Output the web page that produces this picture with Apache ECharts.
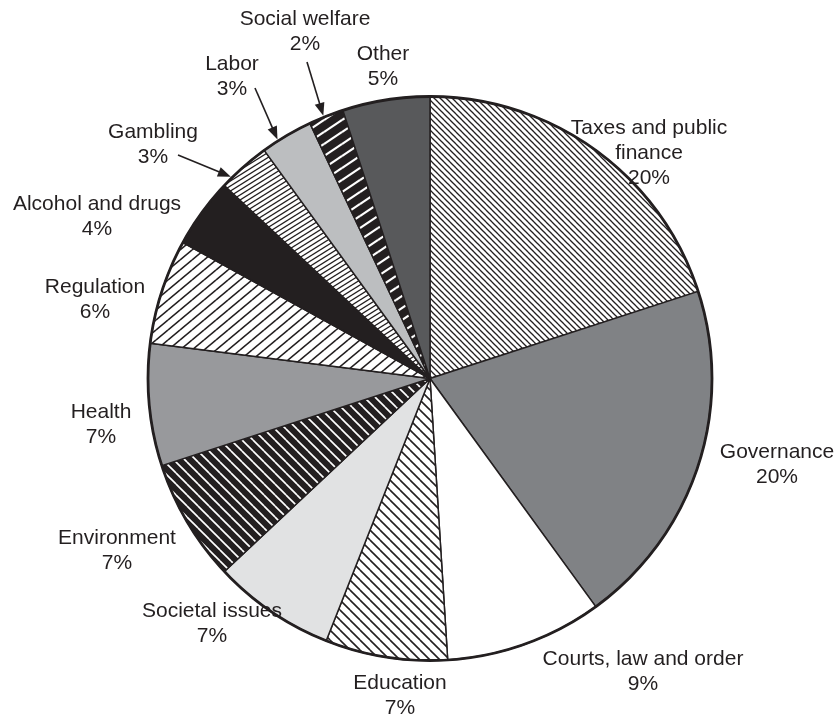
<!DOCTYPE html>
<html>
<head>
<meta charset="utf-8">
<script src="https://cdn.jsdelivr.net/npm/echarts@6/dist/echarts.min.js"></script>
<style>
  html, body { margin: 0; padding: 0; background: #ffffff; }
  #chart { width: 839px; height: 718px; }
</style>
</head>
<body>
<div id="chart"></div>
<script>
// Policy areas, clockwise from 12 o'clock
const categories = [
  'Taxes and public\nfinance', 'Governance', 'Courts, law and order', 'Education',
  'Societal issues', 'Environment', 'Health', 'Regulation', 'Alcohol and drugs',
  'Gambling', 'Labor', 'Social welfare', 'Other'
];
// Share of all items, percent
const shares = [20, 20, 9, 7, 7, 7, 7, 6, 4, 3, 3, 2, 5];

// ---- layout ----
const INK = '#231f20';
const CX = 430, CY = 378.5, R = 282;
const FONT = '"Liberation Sans", Arial, Helvetica, sans-serif';

// centre of each label block
const labelAnchor = [
  [649, 153], [777, 465], [643, 672], [400, 696], [212, 624], [117, 551],
  [101, 425], [95, 300], [97, 217], [153, 145], [232, 77], [305, 32], [383, 67]
];
// arrows for the small slices whose labels sit away from the rim:
// tail point, and where along the slice (0..1) the head touches the rim
const arrowSpec = {
  9: { tail: [178, 155], at: 0.2 },
  10: { tail: [255, 88], at: 0.32 },
  11: { tail: [307, 62], at: 0.43 }
};

// ---- fills ----
function stripes(w, h, dir, lw, fg, bg) {
  const c = document.createElement('canvas');
  c.width = w; c.height = h;
  const g = c.getContext('2d');
  g.fillStyle = bg; g.fillRect(0, 0, w, h);
  g.strokeStyle = fg; g.lineWidth = lw;
  const shifts = [[0, 0], [-w, 0], [w, 0], [0, -h], [0, h]];
  for (const [ox, oy] of shifts) {
    g.beginPath();
    if (dir === '/') { g.moveTo(ox, oy + h); g.lineTo(ox + w, oy); }
    else { g.moveTo(ox, oy); g.lineTo(ox + w, oy + h); }
    g.stroke();
  }
  return { image: c, repeat: 'repeat' };
}

const fills = [
  stripes(6, 6, '\\', 1.3, INK, '#ffffff'),   // Taxes
  '#808285',                                 // Governance
  '#ffffff',                                 // Courts
  stripes(10, 10, '\\', 1.6, INK, '#ffffff'), // Education
  '#e1e2e3',                                 // Societal issues
  stripes(11, 11, '\\', 1.7, '#ffffff', INK), // Environment
  '#98999c',                                 // Health
  stripes(12, 10, '/', 1.6, INK, '#ffffff'),  // Regulation
  INK,                                       // Alcohol and drugs
  stripes(8, 5, '/', 1.3, INK, '#ffffff'),    // Gambling
  '#bcbec0',                                 // Labor
  stripes(18, 12, '/', 2.2, '#ffffff', INK),  // Social welfare
  '#58595b'                                  // Other
];

const pieData = categories.map((name, i) => ({
  name: name,
  value: shares[i],
  itemStyle: { color: fills[i] }
}));

// ---- arrows pointing at a slice's rim ----
const total = shares.reduce((a, b) => a + b, 0);
function angleIn(i, frac) {
  let before = 0;
  for (let k = 0; k < i; k++) before += shares[k];
  return (before + shares[i] * frac) / total * 2 * Math.PI;
}
const arrows = [];
Object.keys(arrowSpec).forEach(key => {
  const i = +key;
  const spec = arrowSpec[i];
  const th = angleIn(i, spec.at);
  const tip = [CX + (R + 1.5) * Math.sin(th), CY - (R + 1.5) * Math.cos(th)];
  const tail = spec.tail;
  const dx = tip[0] - tail[0], dy = tip[1] - tail[1];
  const len = Math.hypot(dx, dy);
  const ux = dx / len, uy = dy / len;
  const hl = 13, hw = 5;
  const base = [tip[0] - ux * hl, tip[1] - uy * hl];
  arrows.push({
    type: 'line', silent: true,
    shape: { x1: tail[0], y1: tail[1], x2: base[0] + ux * 2, y2: base[1] + uy * 2 },
    style: { stroke: INK, lineWidth: 1.6 }
  });
  arrows.push({
    type: 'polygon', silent: true,
    shape: { points: [tip, [base[0] - uy * hw, base[1] + ux * hw], [base[0] + uy * hw, base[1] - ux * hw]] },
    style: { fill: INK }
  });
});

const chart = echarts.init(document.getElementById('chart'), null, { renderer: 'canvas' });
chart.setOption({
  backgroundColor: '#ffffff',
  animation: false,
  graphic: arrows,
  series: [
    {
      type: 'pie',
      center: [CX, CY],
      radius: R,
      startAngle: 90,
      clockwise: true,
      avoidLabelOverlap: false,
      silent: true,
      itemStyle: { borderColor: INK, borderWidth: 1.5 },
      label: {
        show: true,
        position: 'outside',
        formatter: p => p.name + '\n' + p.value + '%',
        color: INK,
        fontFamily: FONT,
        fontSize: 21,
        lineHeight: 25,
        align: 'center'
      },
      labelLine: { show: false },
      labelLayout: params => {
        const a = labelAnchor[params.dataIndex];
        return { x: a[0], y: a[1], align: 'center', verticalAlign: 'middle' };
      },
      emphasis: { disabled: true },
      data: pieData
    },
    {
      // heavier outline around the whole disc
      type: 'pie',
      center: [CX, CY],
      radius: R,
      silent: true,
      label: { show: false },
      labelLine: { show: false },
      itemStyle: { color: 'rgba(0,0,0,0)', borderColor: INK, borderWidth: 2.8 },
      emphasis: { disabled: true },
      data: [{ value: 1, name: 'outline' }]
    }
  ]
});
</script>
</body>
</html>
